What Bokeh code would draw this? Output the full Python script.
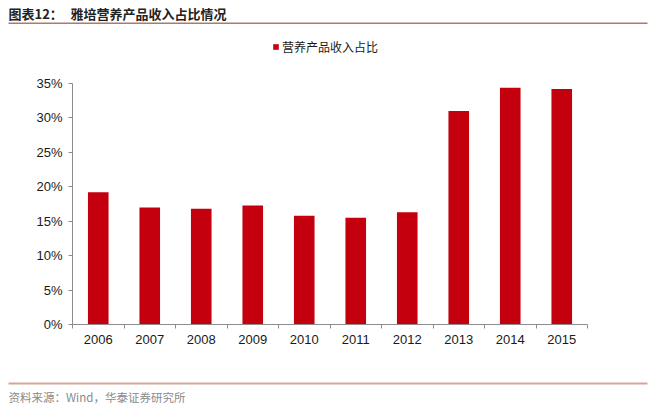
from bokeh.plotting import figure
from bokeh.models import (Range1d, FixedTicker, NumeralTickFormatter, Label,
                          BoxAnnotation, Legend, LegendItem, ColumnDataSource)
from bokeh.embed import file_html
from bokeh.resources import INLINE

years = ["2006", "2007", "2008", "2009", "2010", "2011", "2012", "2013", "2014", "2015"]
share = [0.192, 0.170, 0.168, 0.173, 0.158, 0.155, 0.163, 0.310, 0.344, 0.342]
y_ticks = [0, 0.05, 0.10, 0.15, 0.20, 0.25, 0.30, 0.35]
series_name = "营养产品收入占比"
title_a = "图表12："
title_b = "雅培营养产品收入占比情况"
source_text = "资料来源：Wind，华泰证券研究所"

W, H = 654, 410
# plot-area placement on the page (pixels)
PL, PR, PT, PB = 72, 587, 83, 324

n = len(years)
pos = list(range(n))
x0, x1 = -0.5, n - 0.5
y0, y1 = 0.0, y_ticks[-1]
sx = (PR - PL) / (x1 - x0)
sy = (PB - PT) / (y1 - y0)
x_range = Range1d(x0 - PL / sx, x1 + (W - PR) / sx)
y_range = Range1d(y0 - (H - PB) / sy, y1 + PT / sy)

src = ColumnDataSource(dict(x=pos, y=share, year=years))

p = figure(width=W, height=H, output_backend="svg", toolbar_location=None,
           x_range=x_range, y_range=y_range,
           min_border=0, min_border_left=0, min_border_right=0,
           min_border_top=0, min_border_bottom=0)
p.outline_line_color = None
p.grid.visible = False
p.background_fill_color = "white"
p.border_fill_color = "white"

r = p.vbar(x="x", top="y", width=0.4, source=src, fill_color="#c4000f", line_color=None)

font = "Liberation Sans"
ax_col = "#8c8c8c"

# y axis
p.yaxis.fixed_location = x0
p.yaxis.bounds = (y0, y1)
p.yaxis.ticker = FixedTicker(ticks=y_ticks)
p.yaxis.formatter = NumeralTickFormatter(format="0%")
p.yaxis.axis_line_color = ax_col
p.yaxis.major_tick_line_color = ax_col
p.yaxis.major_tick_out = 4
p.yaxis.major_tick_in = 0
p.yaxis.minor_tick_line_color = None
p.yaxis.major_label_standoff = 6
p.yaxis.major_label_text_font = font
p.yaxis.major_label_text_font_size = "13px"
p.yaxis.major_label_text_color = "#1a1a1a"

# x axis
p.xaxis.fixed_location = y0
p.xaxis.bounds = (x0, x1)
p.xaxis.ticker = FixedTicker(ticks=pos, minor_ticks=[i - 0.5 for i in range(n + 1)])
p.xaxis.major_label_overrides = {i: y for i, y in zip(pos, years)}
p.xaxis.axis_line_color = ax_col
p.xaxis.major_tick_line_color = None
p.xaxis.major_tick_out = 0
p.xaxis.major_tick_in = 0
p.xaxis.minor_tick_line_color = ax_col
p.xaxis.minor_tick_out = 4
p.xaxis.minor_tick_in = 0
p.xaxis.major_label_standoff = 6
p.xaxis.major_label_text_font = font
p.xaxis.major_label_text_font_size = "13px"
p.xaxis.major_label_text_color = "#1a1a1a"

cjk = "Noto Sans CJK SC"

# legend
legend = Legend(items=[LegendItem(label=series_name, renderers=[r])], location=(272, H - 48 - 7),
                glyph_width=7, glyph_height=7, label_standoff=3, padding=0, margin=0,
                spacing=0, label_height=14, border_line_color=None,
                background_fill_alpha=0, label_text_font=cjk,
                label_text_font_size="12px", label_text_color="#1a1a1a")
p.add_layout(legend, "center")

p.add_layout(Label(x=8, y=H - 13, x_units="screen", y_units="screen", text=title_a,
                   text_font=cjk, text_font_style="bold", text_font_size="13px",
                   text_color="#222222", text_baseline="middle"))
p.add_layout(Label(x=70, y=H - 13, x_units="screen", y_units="screen", text=title_b,
                   text_font=cjk, text_font_style="bold", text_font_size="13px",
                   text_color="#222222", text_baseline="middle"))
p.add_layout(Label(x=8, y=H - 396, x_units="screen", y_units="screen", text=source_text,
                   text_font=cjk, text_font_size="11.5px", text_color="#8a8a8a",
                   text_baseline="middle"))

p.add_layout(BoxAnnotation(left=8, right=647, bottom=H - 23.5, top=H - 22,
                           left_units="screen", right_units="screen",
                           bottom_units="screen", top_units="screen",
                           fill_color="#b07a6a", fill_alpha=1, line_color=None))
p.add_layout(BoxAnnotation(left=8, right=647, bottom=H - 384, top=H - 382,
                           left_units="screen", right_units="screen",
                           bottom_units="screen", top_units="screen",
                           fill_color="#cfa896", fill_alpha=1, line_color=None))

open("out.html", "w").write(file_html(p, INLINE))
